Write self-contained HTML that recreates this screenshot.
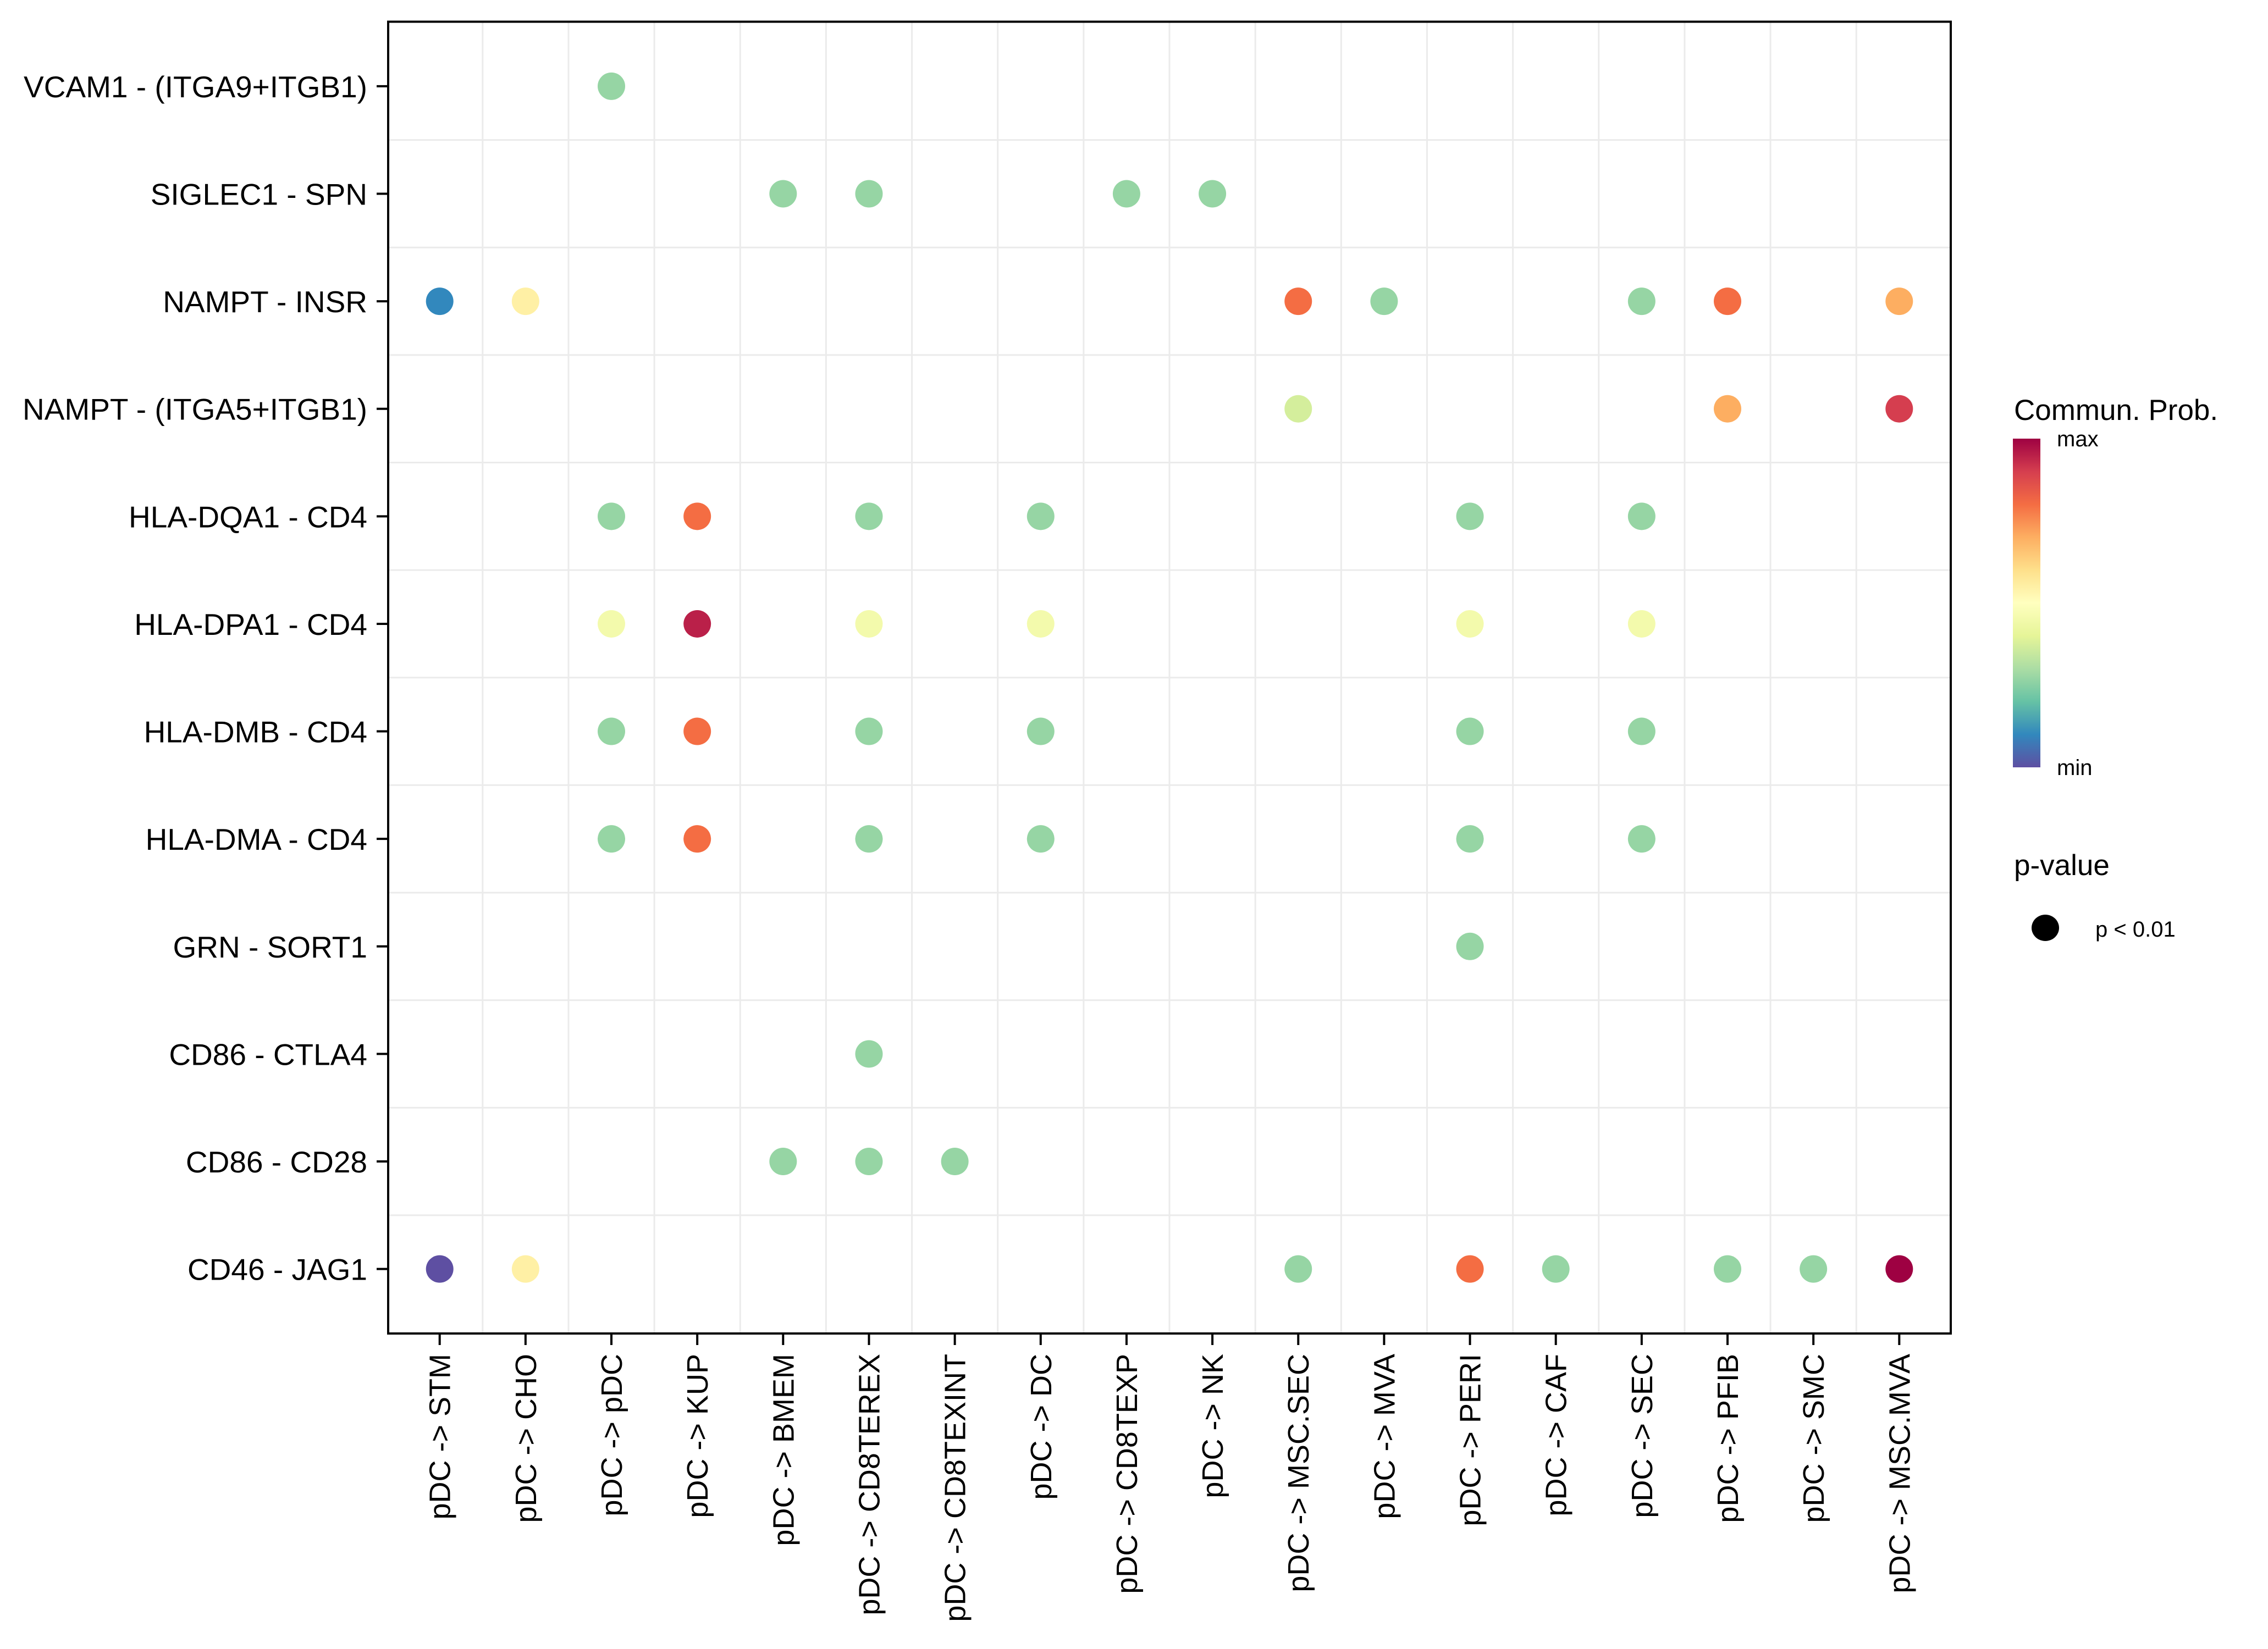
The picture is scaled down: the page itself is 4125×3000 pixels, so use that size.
<!DOCTYPE html>
<html><head><meta charset="utf-8">
<style>
html,body{margin:0;padding:0;background:#fff;}
svg{display:block;font-family:"Liberation Sans",Arial,sans-serif;}
</style></head>
<body>
<svg id="chart" width="4125" height="3000" viewBox="0 0 4125 3000" xmlns="http://www.w3.org/2000/svg">
  <defs>
    <linearGradient id="spectral" x1="0" y1="1" x2="0" y2="0">
      <stop offset="0" stop-color="#5E4FA2"/>
      <stop offset="0.1" stop-color="#3288BD"/>
      <stop offset="0.2" stop-color="#66C2A5"/>
      <stop offset="0.3" stop-color="#ABDDA4"/>
      <stop offset="0.4" stop-color="#E6F598"/>
      <stop offset="0.5" stop-color="#FFFFBF"/>
      <stop offset="0.6" stop-color="#FEE08B"/>
      <stop offset="0.7" stop-color="#FDAE61"/>
      <stop offset="0.8" stop-color="#F46D43"/>
      <stop offset="0.9" stop-color="#D53E4F"/>
      <stop offset="1" stop-color="#9E0142"/>
    </linearGradient>
  </defs>
  <rect x="706" y="39.5" width="2842" height="2386.5" fill="#fff"/>
  <g id="grid"></g>
  <g id="dots"></g>
  <rect x="706" y="39.5" width="2842" height="2386.5" fill="none" stroke="#000" stroke-width="4"/>
  <g id="yaxis"></g>
  <g id="xaxis"></g>

  <g>
    <text x="3663" y="764" font-size="53">Commun. Prob.</text>
    <rect x="3661" y="798" width="50" height="598" fill="url(#spectral)"/>
    <text x="3741" y="812" font-size="40">max</text>
    <text x="3741" y="1410" font-size="40">min</text>
  </g>
  <g>
    <text x="3663" y="1592" font-size="53">p-value</text>
    <ellipse cx="3720" cy="1688" rx="25" ry="24" fill="#000"/>
    <text x="3811" y="1704" font-size="40">p &lt; 0.01</text>
  </g>
</svg>
<script>
const rowLabels = ["VCAM1 - (ITGA9+ITGB1)","SIGLEC1 - SPN","NAMPT - INSR","NAMPT - (ITGA5+ITGB1)","HLA-DQA1 - CD4","HLA-DPA1 - CD4","HLA-DMB - CD4","HLA-DMA - CD4","GRN - SORT1","CD86 - CTLA4","CD86 - CD28","CD46 - JAG1"];
const colLabels = ["pDC -> STM","pDC -> CHO","pDC -> pDC","pDC -> KUP","pDC -> BMEM","pDC -> CD8TEREX","pDC -> CD8TEXINT","pDC -> DC","pDC -> CD8TEXP","pDC -> NK","pDC -> MSC.SEC","pDC -> MVA","pDC -> PERI","pDC -> CAF","pDC -> SEC","pDC -> PFIB","pDC -> SMC","pDC -> MSC.MVA"];
const pointRows = [0, 1,1,1,1, 2,2,2,2,2,2,2, 3,3,3, 4,4,4,4,4,4, 5,5,5,5,5,5, 6,6,6,6,6,6, 7,7,7,7,7,7, 8, 9, 10,10,10, 11,11,11,11,11,11,11,11];
const pointCols = [2, 4,5,8,9, 0,1,10,11,14,15,17, 10,15,17, 2,3,5,7,12,14, 2,3,5,7,12,14, 2,3,5,7,12,14, 2,3,5,7,12,14, 12, 5, 4,5,6, 0,1,10,12,13,15,16,17];
const probValues = [0.27, 0.27,0.27,0.27,0.27, 0.1,0.55,0.8,0.27,0.27,0.8,0.7, 0.37,0.7,0.9, 0.27,0.8,0.27,0.27,0.27,0.27, 0.45,0.95,0.45,0.45,0.45,0.45, 0.27,0.8,0.27,0.27,0.27,0.27, 0.27,0.8,0.27,0.27,0.27,0.27, 0.27, 0.27, 0.27,0.27,0.27, 0.0,0.55,0.27,0.8,0.27,0.27,0.27,1.0];

const NS = "http://www.w3.org/2000/svg";
const L = 706, T = 39.5, W = 2842, H = 2386.5;
const xu = W / (colLabels.length - 1 + 1.2);
const yu = H / (rowLabels.length - 1 + 1.2);
function xScale(i){ return L + (0.6 + i) * xu; }
function yScale(i){ return T + (0.6 + i) * yu; }
const palette = ["#5E4FA2","#3288BD","#66C2A5","#ABDDA4","#E6F598","#FFFFBF","#FEE08B","#FDAE61","#F46D43","#D53E4F","#9E0142"];
function hex(c){ return [1,3,5].map(k=>parseInt(c.substr(k,2),16)); }
function colorScale(v){
  v = Math.max(0, Math.min(1, v));
  const p = v * (palette.length - 1), i = Math.min(Math.floor(p), palette.length - 2), f = p - i;
  const a = hex(palette[i]), b = hex(palette[i+1]);
  return "rgb(" + a.map((x,k)=>Math.round(x + (b[k]-x)*f)).join(",") + ")";
}
function mk(tag, attrs, parent){
  const el = document.createElementNS(NS, tag);
  for (const k in attrs) el.setAttribute(k, attrs[k]);
  parent.appendChild(el);
  return el;
}
const grid = document.getElementById("grid");
for (let i = 0; i < colLabels.length - 1; i++) {
  const x = (xScale(i) + xScale(i+1)) / 2;
  const ln = mk("line", {x1:x, x2:x, y1:T, y2:T+H, stroke:"#ebebeb", "stroke-width":3}, grid);
  
  
}
for (let i = 0; i < rowLabels.length - 1; i++) {
  const y = (yScale(i) + yScale(i+1)) / 2;
  const ln = mk("line", {x1:L, x2:L+W, y1:y, y2:y, stroke:"#ebebeb", "stroke-width":3}, grid);
  
  
}
const dots = document.getElementById("dots");
for (let k = 0; k < probValues.length; k++) {
  const c = mk("circle", {cx:xScale(pointCols[k]), cy:yScale(pointRows[k]), r:25, fill:colorScale(probValues[k])}, dots);
  
  
}
const yaxis = document.getElementById("yaxis");
rowLabels.forEach((lab, i) => {
  const y = yScale(i);
  const t = mk("line", {x1:L-21, x2:L, y1:y, y2:y, stroke:"#000", "stroke-width":4}, yaxis);
  
  
  const tx = mk("text", {x:L-38, y:y+20, "font-size":55, "text-anchor":"end"}, yaxis);
  tx.textContent = lab;
  
  
});
const xaxis = document.getElementById("xaxis");
colLabels.forEach((lab, i) => {
  const x = xScale(i);
  const t = mk("line", {x1:x, x2:x, y1:T+H, y2:T+H+21, stroke:"#000", "stroke-width":4}, xaxis);
  
  
  const tx = mk("text", {x:0, y:0, "font-size":54, "text-anchor":"end", transform:"translate(" + (x+19) + "," + (T+H+37) + ") rotate(-90)"}, xaxis);
  tx.textContent = lab;
  
  
});
</script>
</body></html>
